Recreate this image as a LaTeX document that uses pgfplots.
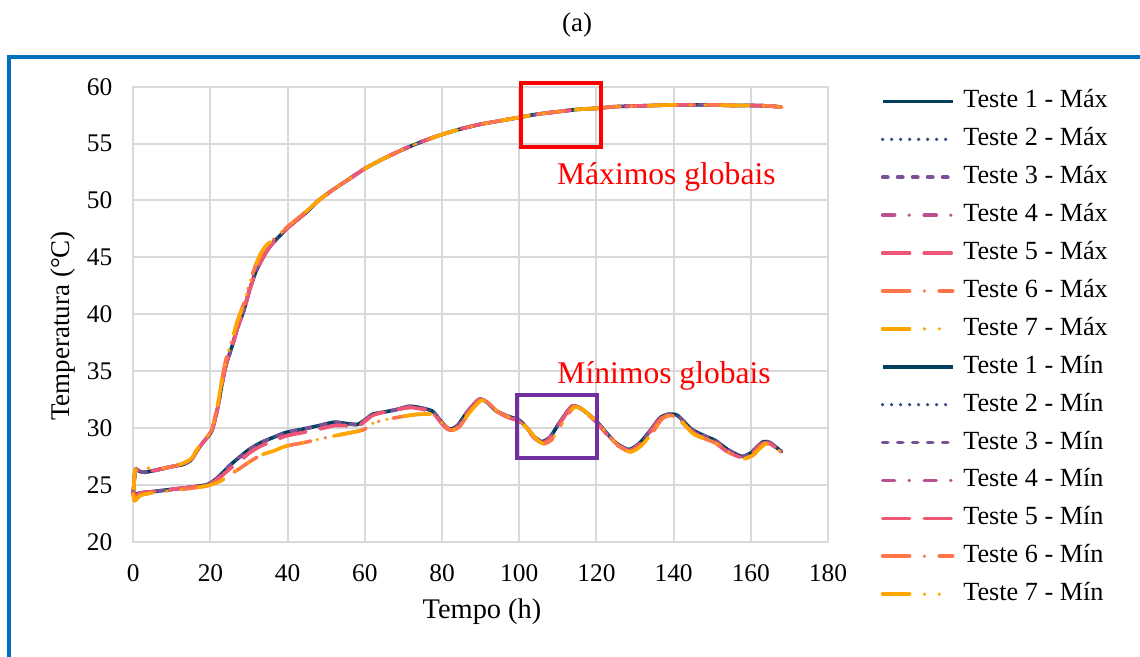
\documentclass[border=0pt]{standalone}
\usepackage{fontspec}
\setmainfont{Liberation Serif}
\usepackage{pgfplots}
\pgfplotsset{compat=1.18}
\usepackage{pgfplotstable}

\definecolor{c1}{HTML}{003F5C}
\definecolor{c2}{HTML}{374C80}
\definecolor{c3}{HTML}{7A5195}
\definecolor{c4}{HTML}{BC5090}
\definecolor{c5}{HTML}{EF5675}
\definecolor{c6}{HTML}{FF764A}
\definecolor{c7}{HTML}{FFA600}
\definecolor{gridc}{HTML}{D9D9D9}
\definecolor{frameblue}{HTML}{0070C0}
\definecolor{boxpurple}{HTML}{7030A0}

% Maximum temperatures, tests 1-5
\pgfplotstableread{
t T
0 24.3
0.3 25.6
0.6 26.4
1.5 26.2
3 26.1
6 26.3
10 26.6
13 26.8
15 27.2
16.5 28.0
18 28.7
19.5 29.3
20.5 29.9
22 32.0
23.1 34.1
24 35.5
25.7 37.3
27 38.8
28.7 40.4
30 42.0
31.7 43.7
33 44.6
34.3 45.4
36 46.2
38 46.9
40 47.6
45 49.0
48 50.0
52 51.0
56 51.9
60 52.8
65 53.7
70 54.5
75 55.2
80 55.8
85 56.3
90 56.7
95 57.0
100 57.3
105 57.6
110 57.8
115 58.0
120 58.1
125 58.25
130 58.3
135 58.35
140 58.4
145 58.4
150 58.4
155 58.35
160 58.35
165 58.3
168 58.2
}\maxA

% Maximum temperatures, tests 6-7
\pgfplotstableread{
t T
0 24.0
0.3 25.8
0.6 26.5
1.5 26.4
3 26.5
6 26.4
10 26.6
13 26.9
15 27.3
16.5 28.1
18 28.8
19.5 29.4
20.5 30.0
22 32.3
23.1 34.5
24 36.0
25.7 37.9
27 39.4
28.7 41.0
30 42.6
31.7 44.3
33 45.3
34.3 46.0
36 46.5
38 47.1
40 47.7
45 49.1
48 50.0
52 51.0
56 51.9
60 52.8
65 53.7
70 54.5
75 55.2
80 55.8
85 56.3
90 56.7
95 57.0
100 57.3
105 57.6
110 57.8
115 58.0
120 58.1
125 58.25
130 58.3
135 58.35
140 58.4
145 58.4
150 58.4
155 58.35
160 58.35
165 58.3
168 58.2
}\maxB

% Minimum temperatures, tests 1-3
\pgfplotstableread{
t T
0 24.4
0.3 24.0
1 24.2
2 24.3
5 24.4
10 24.6
15 24.8
19 25.0
21 25.4
23 26.0
25 26.7
27.4 27.4
30 28.1
33 28.7
36.5 29.2
39.5 29.6
44 29.9
48 30.2
52 30.5
55 30.4
58 30.3
60 30.7
62 31.2
65 31.4
68 31.6
71.4 31.9
74 31.8
77.4 31.5
79.2 30.8
81 30.1
82.2 29.9
84 30.2
86.5 31.4
89.5 32.5
91.5 32.3
94 31.5
97.3 31.0
99.9 30.7
102 30.0
104 29.2
105.9 28.8
108 29.2
110.5 30.5
113.6 31.9
116 31.7
119.7 30.7
122 29.8
125 28.7
128.3 28.1
131 28.6
134 29.8
136.5 30.9
138.7 31.2
141 31.1
144.6 29.9
148 29.3
150.8 28.9
154 28.1
157.6 27.5
160 27.8
161.5 28.3
163.3 28.8
165 28.7
168 27.9
}\minA

% Minimum temperatures, tests 4-5
\pgfplotstableread{
t T
0 24.3
0.3 23.9
1 24.1
2 24.3
5 24.4
10 24.6
15 24.8
19 25.0
21 25.3
23 25.8
25 26.4
27.4 27.0
30 27.8
33 28.4
36.5 28.9
39.5 29.3
44 29.6
48 29.9
52 30.2
55 30.2
58 30.1
60 30.6
62 31.1
65 31.4
68 31.6
71.4 31.8
74 31.7
77.4 31.4
79.2 30.7
81 30.0
82.2 29.8
84 30.1
86.5 31.3
89.5 32.5
91.5 32.3
94 31.5
97.3 30.9
99.9 30.6
102 29.9
104 29.1
105.9 28.7
108 29.1
110.5 30.4
113.6 31.9
116 31.7
119.7 30.6
122 29.7
125 28.6
128.3 28.0
131 28.5
134 29.7
136.5 30.8
138.7 31.1
141 30.9
144.6 29.7
148 29.1
150.8 28.7
154 27.9
157.6 27.4
160 27.7
161.5 28.2
163.3 28.7
165 28.6
168 27.9
}\minB

% Minimum temperatures, tests 6-7
\pgfplotstableread{
t T
0 24.2
0.3 23.6
1 23.8
2 24.1
5 24.3
10 24.5
15 24.7
19 24.9
21 25.1
23 25.4
25 25.9
27.4 26.4
30 27.0
33 27.6
36.5 28.0
39.5 28.4
44 28.7
48 29.0
52 29.3
55 29.5
58 29.7
60 29.9
62 30.4
65 30.7
68 30.9
71.4 31.1
74 31.2
77.4 31.2
79.5 30.6
81.3 30.0
82.7 29.8
84.5 30.1
87 31.3
90 32.4
92 32.2
94.5 31.4
97.8 30.9
100.4 30.5
102.5 29.8
104.5 29.0
106.4 28.6
108.5 29.0
111 30.3
114.1 31.8
116.5 31.6
120.2 30.5
122.5 29.6
125.5 28.5
128.8 27.9
131.5 28.4
134.5 29.6
137 30.8
139.2 31.1
141.5 30.8
145 29.5
148.5 29.0
151.3 28.6
154.5 27.8
158.1 27.3
160.5 27.6
162 28.1
163.8 28.6
165.5 28.5
168 27.8
}\minC

\pgfplotsset{
 s1/.style={c1, line width=1.8pt, solid},
 s2/.style={c2, line width=1.8pt, line cap=round, dash pattern=on 0pt off 4.5pt},
 s3/.style={c3, line width=1.8pt, line cap=round, dash pattern=on 2.6pt off 4.9pt},
 s4/.style={c4, line width=1.8pt, line cap=round, dash pattern=on 6pt off 7.3pt on 0pt off 7.5pt},
 s5/.style={c5, line width=1.8pt, line cap=round, dash pattern=on 13.5pt off 7.3pt},
 s6/.style={c6, line width=1.8pt, line cap=round, dash pattern=on 13.5pt off 7.4pt on 0pt off 7.4pt},
 s7/.style={c7, line width=1.8pt, line cap=round, dash pattern=on 13.5pt off 7.4pt on 0pt off 7.4pt on 0pt off 8.4pt},
}

\begin{document}
\begin{tikzpicture}
\useasboundingbox (0,0) rectangle (570pt,328.5pt);
\draw[frameblue, line width=2pt] (4.5pt,-10pt) -- (4.5pt,300pt) -- (600pt,300pt);
\node[font=\fontsize{13.5}{15}\selectfont] at (288.5pt,316pt) {(a)};
\begin{axis}[
 at={(66.65pt,57.65pt)}, anchor=south west,
 scale only axis, width=347.35pt, height=227.5pt,
 xmin=0, xmax=180, ymin=20, ymax=60,
 xtick={0,20,...,180}, ytick={20,25,...,60},
 grid=major, major grid style={gridc, line width=1pt},
 axis line style={gridc, line width=1pt},
 major tick length=0pt,
 tick label style={font=\fontsize{12.7}{14}\selectfont},
 /pgf/number format/assume math mode=true,
 xticklabel style={yshift=-8pt},
 yticklabel style={xshift=-7pt},
 clip=false,
 no markers,
 every axis plot/.append style={smooth, tension=0.4, line join=round},
 legend image code/.code={\draw[#1] (0pt,0pt) -- (35pt,0pt);},
 legend cell align=left,
 legend style={at={(1.076,0.995)}, anchor=north west, draw=none, fill=none,
   inner sep=0pt, outer sep=0pt, font=\fontsize{13.1}{15}\selectfont,
   row sep=6.45pt, nodes={inner sep=0pt, text height=9.5pt, text depth=3pt},
   /tikz/every odd column/.append style={column sep=4.5pt}},
]
\addplot[s1] table[x=t,y=T] {\maxA}; \addlegendentry{Teste 1 - Máx}
\addplot[s2] table[x=t,y=T] {\maxA}; \addlegendentry{Teste 2 - Máx}
\addplot[s3] table[x=t,y=T] {\maxA}; \addlegendentry{Teste 3 - Máx}
\addplot[s4] table[x=t,y=T] {\maxA}; \addlegendentry{Teste 4 - Máx}
\addplot[s5] table[x=t,y=T] {\maxA}; \addlegendentry{Teste 5 - Máx}
\addplot[s6] table[x=t,y=T] {\maxB}; \addlegendentry{Teste 6 - Máx}
\addplot[s7] table[x=t,y=T] {\maxB}; \addlegendentry{Teste 7 - Máx}
\addplot[s1] table[x=t,y=T] {\minA}; \addlegendentry{Teste 1 - Mín}
\addplot[s2] table[x=t,y=T] {\minA}; \addlegendentry{Teste 2 - Mín}
\addplot[s3] table[x=t,y=T] {\minA}; \addlegendentry{Teste 3 - Mín}
\addplot[s4] table[x=t,y=T] {\minB}; \addlegendentry{Teste 4 - Mín}
\addplot[s5] table[x=t,y=T] {\minB}; \addlegendentry{Teste 5 - Mín}
\addplot[s6] table[x=t,y=T] {\minC}; \addlegendentry{Teste 6 - Mín}
\addplot[s7] table[x=t,y=T] {\minC}; \addlegendentry{Teste 7 - Mín}
\draw[red, line width=2pt] (axis cs:100.5,54.67) rectangle (axis cs:121.2,60.3);
\draw[boxpurple, line width=2pt] (axis cs:99.3,27.33) rectangle (axis cs:120.2,32.9);
\node[red, anchor=base west, inner sep=0pt, font=\fontsize{15.8}{18}\selectfont] at (axis cs:109.7,51.36) {Máximos globais};
\node[red, anchor=base west, inner sep=0pt, font=\fontsize{15.8}{18}\selectfont] at (axis cs:109.8,33.95) {Mínimos globais};
\end{axis}
\node[rotate=90, font=\fontsize{13.5}{16}\selectfont] at (31.5pt,165.5pt) {Temperatura (°C)};
\node[font=\fontsize{14.2}{16}\selectfont] at (241pt,22.5pt) {Tempo (h)};
\end{tikzpicture}
\end{document}
